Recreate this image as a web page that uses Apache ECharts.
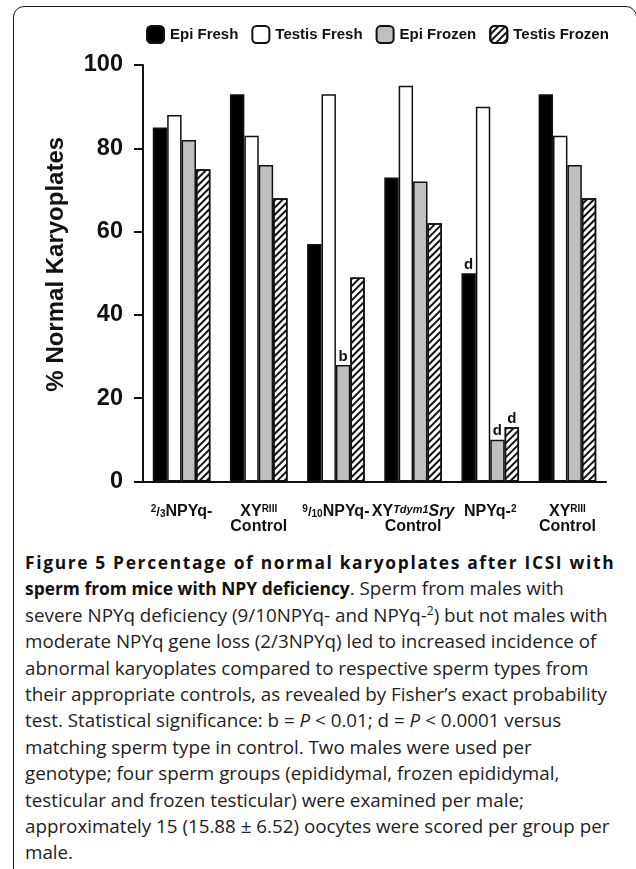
<!DOCTYPE html>
<html><head><meta charset="utf-8">
<script src="https://cdn.jsdelivr.net/npm/echarts@6/dist/echarts.min.js"></script>
<style>
html,body{margin:0;padding:0;background:#fff;}
#frame{position:absolute;left:13px;top:6px;width:624px;height:890px;border:1.6px solid #1a1a1a;border-radius:11px;box-sizing:border-box;}
#chart{position:absolute;left:0;top:0;width:636px;height:545px;}
#cap{position:absolute;left:25px;top:549px;width:611px;font-family:'Open Sans',sans-serif;font-size:18.8px;line-height:26.4px;color:#222;white-space:nowrap;}
#cap b{color:#111;font-size:17.4px;}
#cap b.l1{letter-spacing:1.65px;}
#cap b.l2{letter-spacing:0px;}
#cap sup{font-size:12px;line-height:0;}
</style></head><body>
<div id="frame"></div>
<div id="chart"></div>
<div id="cap">
<b class="l1">Figure 5 Percentage of normal karyoplates after ICSI with</b><br>
<b class="l2">sperm from mice with NPY deficiency</b>. Sperm from males with<br>
severe NPYq deficiency (9/10NPYq- and NPYq-<sup>2</sup>) but not males with<br>
moderate NPYq gene loss (2/3NPYq) led to increased incidence of<br>
abnormal karyoplates compared to respective sperm types from<br>
their appropriate controls, as revealed by Fisher’s exact probability<br>
test. Statistical significance: b = <i>P</i> &lt; 0.01; d = <i>P</i> &lt; 0.0001 versus<br>
matching sperm type in control. Two males were used per<br>
genotype; four sperm groups (epididymal, frozen epididymal,<br>
testicular and frozen testicular) were examined per male;<br>
approximately 15 (15.88 ± 6.52) oocytes were scored per group per<br>
male.
</div>
<script>
// ---- data ----
const categories = [
  '{sup|2}{sl|/}{sub|3}NPYq-',
  'XY{sup|RIII}\nControl',
  '{sup|9}{sl|/}{sub|10}NPYq-',
  'XY{supi|Tdym1}{i|Sry}\nControl',
  'NPYq-{sup|2}',
  'XY{sup|RIII}\nControl'
];
const seriesNames = ['Epi Fresh', 'Testis Fresh', 'Epi Frozen', 'Testis Frozen'];
const epiFresh     = [85, 93, 57, 73, 50, 93];
const testisFresh  = [88, 83, 93, 95, 90, 83];
const epiFrozen    = [82, 76, 28, 72, 10, 76];
const testisFrozen = [75, 68, 49, 62, 13, 68];
const epiFreshSig     = ['', '', '', '', 'd', ''];
const testisFreshSig  = ['', '', '', '', '', ''];
const epiFrozenSig    = ['', '', 'b', '', 'd', ''];
const testisFrozenSig = ['', '', '', '', 'd', ''];
const yMin = 0, yMax = 100, yStep = 20;

const FONT = "'Liberation Sans', Arial, Helvetica, sans-serif";
const chart = echarts.init(document.getElementById('chart'), null, {renderer: 'canvas'});

function sigLabel(arr) {
  return {
    show: true, position: 'top', distance: 1,
    formatter: p => arr[p.dataIndex],
    fontFamily: FONT, fontWeight: 'bold', fontSize: 15, color: '#111'
  };
}
const border = {borderColor: '#111', borderWidth: 1.5};
const series = [
  {name: seriesNames[0], data: epiFresh, itemStyle: Object.assign({color: '#000'}, border), label: sigLabel(epiFreshSig)},
  {name: seriesNames[1], data: testisFresh, itemStyle: Object.assign({color: '#fff'}, border), label: sigLabel(testisFreshSig)},
  {name: seriesNames[2], data: epiFrozen, itemStyle: Object.assign({color: '#bfbfbf'}, border), label: sigLabel(epiFrozenSig)},
  {name: seriesNames[3], data: testisFrozen, itemStyle: Object.assign({
      color: '#fff',
      decal: {symbol: 'rect', symbolSize: 1, dashArrayX: [1, 0], dashArrayY: [1.6, 2.6], rotation: -Math.PI / 4, color: '#111'}
    }, border), label: sigLabel(testisFrozenSig)}
].map(s => Object.assign({type: 'bar', barWidth: 14.4, barGap: '0%', animation: false}, s));

chart.setOption({
  animation: false,
  backgroundColor: 'transparent',
  legend: {
    data: seriesNames, left: 146, top: 25, padding: 0, itemWidth: 17, itemHeight: 17, itemGap: 13,
    textStyle: {fontFamily: FONT, fontWeight: 'bold', fontSize: 15, color: '#111', padding: [0, 0, 0, 1]}
  },
  grid: {left: 143, top: 65, width: 463, height: 416.5},
  xAxis: {
    type: 'category', data: categories,
    axisLine: {lineStyle: {color: '#111', width: 2}},
    axisTick: {show: false},
    axisLabel: {
      interval: 0, margin: 23, color: '#111', fontFamily: FONT, fontWeight: 'bold', fontSize: 16, lineHeight: 15,
      rich: {
        sup: {fontFamily: FONT, fontWeight: 'bold', fontSize: 10, lineHeight: 6, verticalAlign: 'top', color: '#111'},
        supi: {fontFamily: FONT, fontWeight: 'bold', fontStyle: 'italic', fontSize: 11, lineHeight: 6, verticalAlign: 'top', color: '#111'},
        sub: {fontFamily: FONT, fontWeight: 'bold', fontSize: 10, lineHeight: 8, verticalAlign: 'bottom', color: '#111'},
        sl: {fontFamily: FONT, fontSize: 13, color: '#111'},
        i: {fontFamily: FONT, fontWeight: 'bold', fontStyle: 'italic', fontSize: 16, color: '#111'}
      }
    }
  },
  yAxis: {
    type: 'value', min: yMin, max: yMax, interval: yStep,
    name: '% Normal Karyoplates', nameLocation: 'middle', nameGap: 75, nameMoveOverlap: false,
    nameTextStyle: {fontFamily: FONT, fontWeight: 'bold', fontSize: 24, color: '#111', padding: [0, 0, 0, 18]},
    axisLine: {show: true, lineStyle: {color: '#111', width: 2}},
    axisTick: {show: true, length: 9, lineStyle: {color: '#111', width: 2}},
    axisLabel: {margin: 20, fontFamily: FONT, fontWeight: 'bold', fontSize: 23.5, color: '#111'},
    splitLine: {show: false}
  },
  series: series
});
</script>
</body></html>
